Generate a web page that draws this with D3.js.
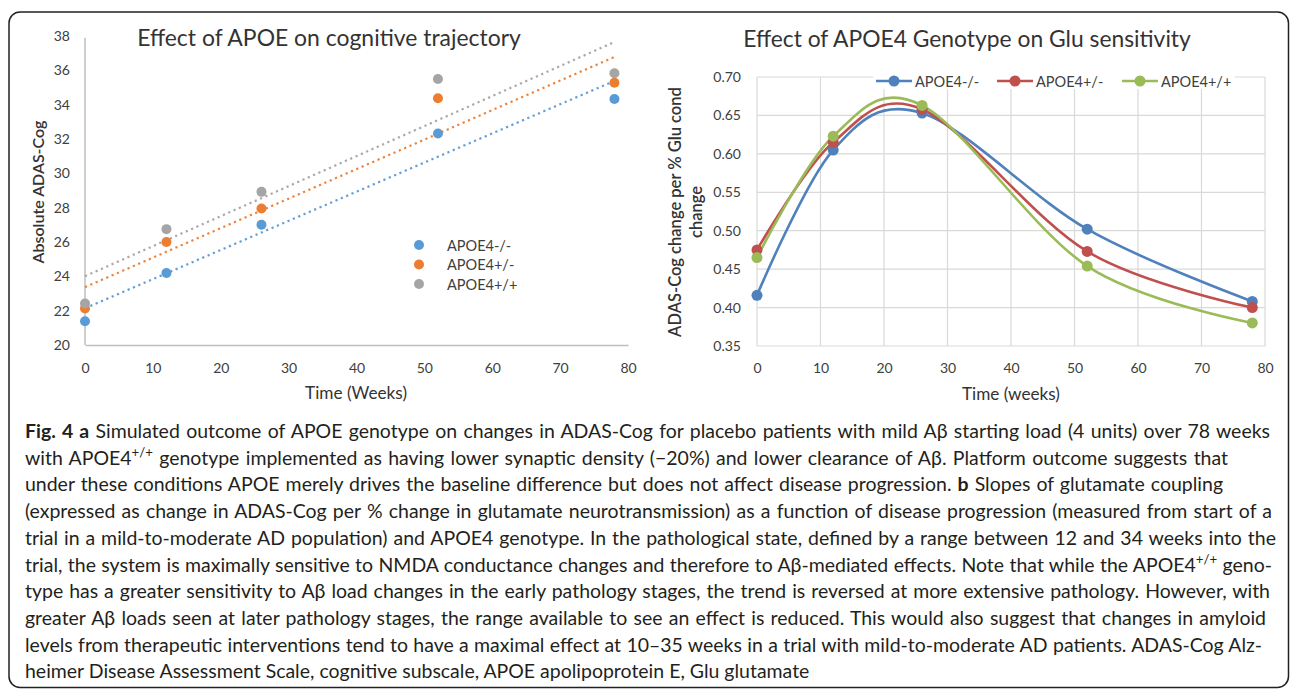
<!DOCTYPE html>
<html><head><meta charset="utf-8">
<script src="https://cdn.jsdelivr.net/npm/d3@7"></script>
<style>html,body{margin:0;padding:0;background:#fff;} svg{display:block;}</style>
</head><body>
<svg id="c" width="1290" height="689"></svg>
<script>
// ---------------- data ----------------
const weeks = [0, 12, 26, 52, 78];
const genotypes = ["APOE4-/-", "APOE4+/-", "APOE4+/+"];
// panel a: absolute ADAS-Cog
const adasNeg = [21.38, 24.19, 27.0, 32.32, 34.33];
const adasHet = [22.13, 26.0, 27.95, 34.37, 35.28];
const adasHom = [22.42, 26.75, 28.92, 35.5, 35.83];
// panel b: ADAS-Cog change per % Glu cond change
const gluNeg = [0.416, 0.605, 0.653, 0.502, 0.408];
const gluHet = [0.475, 0.615, 0.658, 0.473, 0.400];
const gluHom = [0.465, 0.623, 0.663, 0.454, 0.380];
// ticks
const xTicks = [0, 10, 20, 30, 40, 50, 60, 70, 80];
const leftYTicks = [20, 22, 24, 26, 28, 30, 32, 34, 36, 38];
const rightYTicks = [0.35, 0.40, 0.45, 0.50, 0.55, 0.60, 0.65, 0.70];
// texts
const leftTitle = "Effect of APOE on cognitive trajectory";
const rightTitle = "Effect of APOE4 Genotype on Glu sensitivity";
const leftYTitle = "Absolute ADAS-Cog";
const leftXTitle = "Time (Weeks)";
const rightYTitle = ["ADAS-Cog change per % Glu cond", "change"];
const rightXTitle = "Time (weeks)";
const captionLines = [
  [["Fig. 4 a", "b"], [" Simulated outcome of APOE genotype on changes in ADAS-Cog for placebo patients with mild A\u03b2 starting load (4 units) over 78 weeks"]],
  [["with APOE4"], ["+/+", "sup"], [" genotype implemented as having lower synaptic density (\u221220%) and lower clearance of A\u03b2. Platform outcome suggests that"]],
  [["under these conditions APOE merely drives the baseline difference but does not affect disease progression. "], ["b", "b"], [" Slopes of glutamate coupling"]],
  [["(expressed as change in ADAS-Cog per % change in glutamate neurotransmission) as a function of disease progression (measured from start of a"]],
  [["trial in a mild-to-moderate AD population) and APOE4 genotype. In the pathological state, defined by a range between 12 and 34 weeks into the"]],
  [["trial, the system is maximally sensitive to NMDA conductance changes and therefore to A\u03b2-mediated effects. Note that while the APOE4"], ["+/+", "sup"], [" geno-"]],
  [["type has a greater sensitivity to A\u03b2 load changes in the early pathology stages, the trend is reversed at more extensive pathology. However, with"]],
  [["greater A\u03b2 loads seen at later pathology stages, the range available to see an effect is reduced. This would also suggest that changes in amyloid"]],
  [["levels from therapeutic interventions tend to have a maximal effect at 10\u201335 weeks in a trial with mild-to-moderate AD patients. ADAS-Cog Alz-"]],
  [["heimer Disease Assessment Scale, cognitive subscale, APOE apolipoprotein E, Glu glutamate"]]
];
const captionLineEnds = [1270, 1228, 1223, 1272, 1276, 1272, 1270, 1266, 1262, null];

// ---------------- styles ----------------
const FONT = "Lato, 'Noto Sans', sans-serif";
const leftColors = ["#5B9BD5", "#ED7D31", "#A5A5A5"];
const rightColors = ["#4F81BD", "#C0504D", "#9BBB59"];
const svg = d3.select("#c");

function fitWidth(sel, target) {
  const w = sel.node().getComputedTextLength();
  const fs = parseFloat(sel.attr("font-size"));
  sel.attr("font-size", fs * target / w);
  return fs * target / w;
}

// frame
svg.append("rect").attr("x", 9).attr("y", 12).attr("width", 1279.5).attr("height", 675.5)
  .attr("rx", 11).attr("fill", "none").attr("stroke", "#222").attr("stroke-width", 1.5);

// ================= LEFT PANEL =================
const xL = d3.scaleLinear().domain([0, 80]).range([85, 628]);
const yL = d3.scaleLinear().domain([20, 38]).range([345, 36]);
const gL = svg.append("g");

const axLY = gL.append("g").attr("transform", `translate(${xL(0)},0)`)
  .call(d3.axisLeft(yL).tickValues(leftYTicks).tickSize(0).tickSizeOuter(0).tickPadding(15).tickFormat(d3.format("d")));
const axLX = gL.append("g").attr("transform", `translate(0,${yL(20)})`)
  .call(d3.axisBottom(xL).tickValues(xTicks).tickSize(0).tickSizeOuter(0).tickPadding(18).tickFormat(d3.format("d")));
[axLY, axLX].forEach(a => {
  a.attr("font-family", FONT).attr("font-size", 14);
  a.select(".domain").attr("stroke", "#BFBFBF").attr("stroke-width", 1.5);
  a.selectAll("text").attr("fill", "#404040");
});
axLY.select(".domain").attr("d", `M0,${yL(37.9)}V${yL(20)}`);

// trend lines (least squares through each series)
const leftSeries = [adasNeg, adasHet, adasHom];
leftSeries.forEach((vals, i) => {
  const mx = d3.mean(weeks), my = d3.mean(vals);
  const sxy = d3.sum(weeks, (x, j) => (x - mx) * (vals[j] - my));
  const sxx = d3.sum(weeks, x => (x - mx) * (x - mx));
  const b = sxy / sxx, a = my - b * mx;
  const x0 = weeks[0], x1 = weeks[weeks.length - 1];
  gL.append("line")
    .attr("x1", xL(x0)).attr("y1", yL(a + b * x0))
    .attr("x2", xL(x1)).attr("y2", yL(a + b * x1))
    .attr("stroke", leftColors[i]).attr("stroke-width", 2.2)
    .attr("stroke-dasharray", "2.2 3.6").attr("opacity", 0.95);
});
leftSeries.forEach((vals, i) => {
  gL.append("g").selectAll("circle").data(vals).join("circle")
    .attr("cx", (d, j) => xL(weeks[j])).attr("cy", d => yL(d)).attr("r", 5)
    .attr("fill", leftColors[i]);
});

// titles
const tL = gL.append("text").attr("x", 329).attr("y", 45.5).attr("text-anchor", "middle")
  .attr("font-family", FONT).attr("font-size", 20).attr("fill", "#333").text(leftTitle);
fitWidth(tL, 384);
const ytL = gL.append("text").attr("transform", "translate(37,192) rotate(-90)").attr("text-anchor", "middle")
  .attr("dominant-baseline", "central").attr("font-family", FONT).attr("font-weight", 600)
  .attr("font-size", 16).attr("fill", "#333").text(leftYTitle);
fitWidth(ytL, 143);
const xtL = gL.append("text").attr("x", 356).attr("y", 398.5).attr("text-anchor", "middle")
  .attr("font-family", FONT).attr("font-size", 16).attr("fill", "#333").text(leftXTitle);
fitWidth(xtL, 102);

// legend (left)
const legL = gL.append("g");
const legLY = d3.scalePoint().domain(genotypes).range([245, 284]);
genotypes.forEach((g, i) => {
  legL.append("circle").attr("cx", 419).attr("cy", legLY(g)).attr("r", 5).attr("fill", leftColors[i]);
  legL.append("text").attr("x", 447).attr("y", legLY(g)).attr("dominant-baseline", "central")
    .attr("font-family", FONT).attr("font-size", 14.5).attr("fill", "#404040").text(g);
});

// ================= RIGHT PANEL =================
const xR = d3.scaleLinear().domain([0, 80]).range([757, 1265]);
const yR = d3.scaleLinear().domain([0.35, 0.70]).range([346, 77]);
const gR = svg.append("g");

// grid
gR.append("g").selectAll("line").data(xTicks).join("line")
  .attr("x1", d => xR(d)).attr("x2", d => xR(d)).attr("y1", yR(0.35)).attr("y2", yR(0.70))
  .attr("stroke", "#D9D9D9").attr("stroke-width", 1.2);
gR.append("g").selectAll("line").data(rightYTicks).join("line")
  .attr("x1", xR(0)).attr("x2", xR(80)).attr("y1", d => yR(d)).attr("y2", d => yR(d))
  .attr("stroke", "#D9D9D9").attr("stroke-width", 1.2);

const axRY = gR.append("g").attr("transform", `translate(${xR(0)},0)`)
  .call(d3.axisLeft(yR).tickValues(rightYTicks).tickSize(0).tickSizeOuter(0).tickPadding(16).tickFormat(d3.format(".2f")));
const axRX = gR.append("g").attr("transform", `translate(0,${yR(0.35)})`)
  .call(d3.axisBottom(xR).tickValues(xTicks).tickSize(0).tickSizeOuter(0).tickPadding(17).tickFormat(d3.format("d")));
[axRY, axRX].forEach(a => {
  a.attr("font-family", FONT).attr("font-size", 14);
  a.select(".domain").remove();
  a.selectAll("text").attr("fill", "#404040");
});

const rightSeries = [gluNeg, gluHet, gluHom];
const lineGen = d3.line().x(d => xR(d[0])).y(d => yR(d[1])).curve(d3.curveCardinal.tension(0));
rightSeries.forEach((vals, i) => {
  const pts = weeks.map((w, j) => [w, vals[j]]);
  gR.append("path").attr("d", lineGen(pts)).attr("fill", "none")
    .attr("stroke", rightColors[i]).attr("stroke-width", 2.6).attr("stroke-linecap", "round");
});
rightSeries.forEach((vals, i) => {
  gR.append("g").selectAll("circle").data(vals).join("circle")
    .attr("cx", (d, j) => xR(weeks[j])).attr("cy", d => yR(d)).attr("r", 5.5)
    .attr("fill", rightColors[i]);
});

// legend (right)
const legR = gR.append("g");
legR.append("rect").attr("x", 873).attr("y", 72).attr("width", 362).attr("height", 17).attr("fill", "#fff");
const legRX = [876, 997, 1122];
genotypes.forEach((g, i) => {
  const x0 = legRX[i];
  legR.append("line").attr("x1", x0).attr("x2", x0 + 36).attr("y1", 81).attr("y2", 81)
    .attr("stroke", rightColors[i]).attr("stroke-width", 2.6);
  legR.append("circle").attr("cx", x0 + 18).attr("cy", 81).attr("r", 5.5).attr("fill", rightColors[i]);
  legR.append("text").attr("x", x0 + 39).attr("y", 81).attr("dominant-baseline", "central")
    .attr("font-family", FONT).attr("font-size", 14.5).attr("fill", "#404040").text(g);
});

// titles
const tR = gR.append("text").attr("x", 967).attr("y", 46.5).attr("text-anchor", "middle")
  .attr("font-family", FONT).attr("font-size", 20).attr("fill", "#333").text(rightTitle);
fitWidth(tR, 448);
const ytR1 = gR.append("text").attr("transform", "translate(675,212) rotate(-90)").attr("text-anchor", "middle")
  .attr("dominant-baseline", "central").attr("font-family", FONT).attr("font-weight", 600)
  .attr("font-size", 16).attr("fill", "#333").text(rightYTitle[0]);
const fsR = fitWidth(ytR1, 250);
gR.append("text").attr("transform", "translate(696,212) rotate(-90)").attr("text-anchor", "middle")
  .attr("dominant-baseline", "central").attr("font-family", FONT).attr("font-weight", 600)
  .attr("font-size", fsR).attr("fill", "#333").text(rightYTitle[1]);
const xtR = gR.append("text").attr("x", 1011).attr("y", 399.5).attr("text-anchor", "middle")
  .attr("font-family", FONT).attr("font-size", 16).attr("fill", "#333").text(rightXTitle);
fitWidth(xtR, 98);

// ================= CAPTION =================
const CAPFONT = "Lato, 'Noto Sans', sans-serif";
const capG = svg.append("g").attr("font-family", CAPFONT).attr("fill", "#231f20");
const lastText = captionLines[captionLines.length - 1].map(r => r[0]).join("");
const probe = capG.append("text").attr("font-size", 100).text(lastText);
const capSize = 100 * 785 / probe.node().getComputedTextLength();
probe.remove();
const capX = 25;
captionLines.forEach((runs, i) => {
  const t = capG.append("text").attr("x", capX).attr("y", 438 + i * 26.7)
    .attr("font-size", capSize).style("white-space", "pre");
  let afterSup = false;
  runs.forEach(([s, st]) => {
    const ts = t.append("tspan").text(s);
    if (st === "b") ts.attr("font-weight", "bold");
    if (st === "sup") { ts.attr("font-size", capSize * 0.68).attr("dy", -capSize * 0.4); afterSup = true; }
    else if (afterSup) { ts.attr("dy", capSize * 0.4); afterSup = false; }
  });
  const end = captionLineEnds[i];
  if (end) {
    const target = end - capX;
    const w = t.node().getComputedTextLength();
    const full = runs.map(r => r[0]).join("");
    const nSp = (full.match(/ /g) || []).length;
    t.attr("word-spacing", (target - w) / nSp);
    const w2 = t.node().getComputedTextLength();
    if (Math.abs(w2 - target) > 3) {
      t.attr("word-spacing", null).attr("textLength", target).attr("lengthAdjust", "spacing");
    }
  }
});
</script>
</body></html>
